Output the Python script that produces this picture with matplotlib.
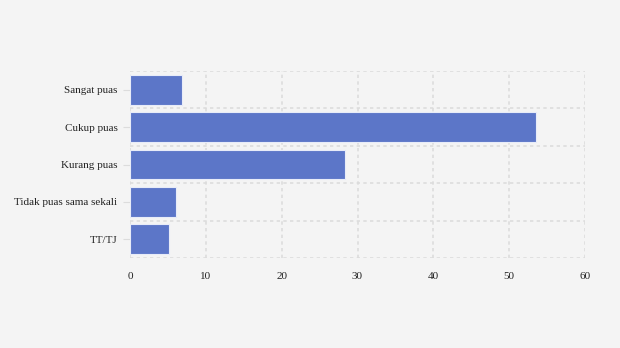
import matplotlib.pyplot as plt

categories = ['Sangat puas', 'Cukup puas', 'Kurang puas', 'Tidak puas sama sekali', 'TT/TJ']
values = [6.9, 53.6, 28.4, 6.1, 5.2]
xticks = [0, 10, 20, 30, 40, 50, 60]

plt.rcParams['font.family'] = ['Liberation Serif', 'DejaVu Serif']

fig = plt.figure(figsize=(6.2, 3.48), dpi=100, facecolor='#f4f4f4')
ax = fig.add_axes([130 / 620, 1 - 258 / 348, 455 / 620, 187 / 348])
ax.set_facecolor('#f4f4f4')

pos = list(range(len(categories)))
ax.barh(pos, values, height=0.8, color='#5c76c8', edgecolor='#e8ecf8', linewidth=0.8, zorder=3)

ax.set_xlim(0, 60)
ax.set_ylim(len(categories) - 0.5, -0.5)
ax.set_xticks(xticks)
ax.set_xticklabels([str(t) for t in xticks])
ax.set_yticks(pos)
ax.set_yticklabels(categories)

# grid: vertical at x ticks, horizontal between categories
for t in xticks:
    ax.axvline(t, color='#dcdcdc', linestyle=(0, (2, 2)), linewidth=1.2, zorder=1)
for b in [i - 0.5 for i in range(len(categories) + 1)]:
    ax.axhline(b, color='#dcdcdc', linestyle=(0, (2, 2)), linewidth=1.2, zorder=1)

for s in ax.spines.values():
    s.set_visible(False)

ax.tick_params(axis='x', length=0, pad=10, labelsize=8, labelcolor='#222222')
ax.tick_params(axis='y', length=5, width=0.8, color='#dcdcdc', pad=4, labelsize=8, labelcolor='#222222')

fig.savefig('out.png', dpi=100, facecolor=fig.get_facecolor())
